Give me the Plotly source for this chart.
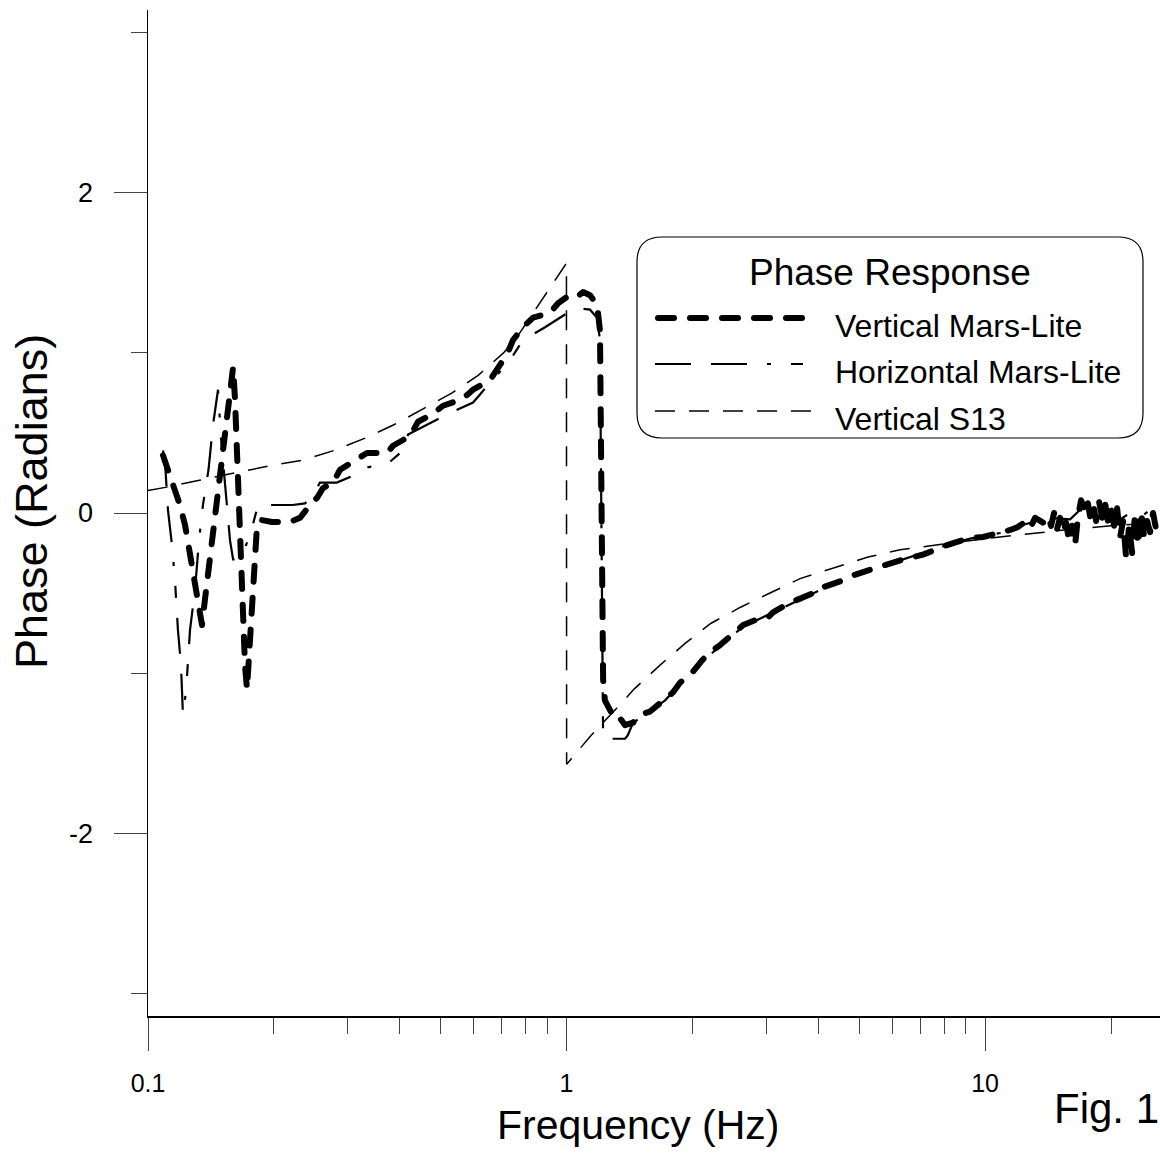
import math
import plotly.graph_objects as go

# ---------------- data ----------------
vert_ml_freq = [0.1086, 0.1116, 0.1160, 0.1192, 0.1226, 0.1260, 0.1281, 0.1310, 0.1346, 0.1368,
                0.1406, 0.1446, 0.1486, 0.1528, 0.1553, 0.1588, 0.1597, 0.1614, 0.1630, 0.1650,
                0.1668, 0.1686, 0.1705, 0.1724, 0.1753, 0.1782, 0.1822, 0.1870, 0.1979, 0.2184,
                0.2308, 0.2439, 0.2534, 0.2619, 0.2767, 0.2876, 0.2956, 0.3157, 0.3336, 0.3725,
                0.3850, 0.4068, 0.4227, 0.4418, 0.4797, 0.5069, 0.5627, 0.5978, 0.6564, 0.6935,
                0.7207, 0.7448, 0.7869, 0.8317, 0.9133, 0.9544, 1.003, 1.048, 1.095, 1.138,
                1.183, 1.202, 1.209, 1.216, 1.223, 1.235, 1.270, 1.306, 1.340, 1.380,
                1.442, 1.498, 1.583, 1.645, 1.720, 1.797, 1.867, 2.006, 2.108, 2.203,
                2.328, 2.459, 2.642, 2.821, 3.013, 3.114, 3.420, 3.654, 3.968, 4.034,
                4.382, 4.579, 4.838, 5.254, 5.520, 6.029, 6.370, 7.110, 7.680, 8.115,
                8.575, 9.209, 9.890, 10.86, 11.48, 11.93, 12.46, 12.81, 13.17, 13.76,
                13.91, 14.15, 14.38, 14.62, 14.86, 15.11, 15.36, 15.62, 15.88, 16.14,
                16.41, 16.68, 16.96, 17.24, 17.53, 17.82, 18.12, 18.42, 18.73, 19.04,
                19.36, 19.68, 20.01, 20.34, 20.68, 21.02, 21.37, 21.73, 22.09, 22.46,
                22.83, 23.21, 23.60, 23.99, 24.39, 24.79, 25.20, 25.62, 26.05]
vert_ml_phase = [0.36, 0.27, 0.125, 0.05, -0.075, -0.26, -0.42, -0.54, -0.70, -0.54,
                 -0.29, -0.04, 0.21, 0.46, 0.64, 0.86, 0.91, 0.71, 0.39, 0.02,
                 -0.36, -0.67, -0.95, -1.10, -0.79, -0.36, -0.075, -0.044, -0.056, -0.056,
                 -0.03, 0.05, 0.094, 0.156, 0.19, 0.27, 0.29, 0.33, 0.375, 0.375,
                 0.42, 0.456, 0.48, 0.57, 0.62, 0.67, 0.71, 0.77, 0.83, 0.925,
                 0.99, 1.08, 1.16, 1.22, 1.25, 1.31, 1.35, 1.34, 1.38, 1.36,
                 1.30, 1.14, 0.39, -0.54, -1.04, -1.17, -1.24, -1.29, -1.28, -1.325,
                 -1.31, -1.26, -1.24, -1.20, -1.16, -1.12, -1.06, -0.99, -0.92, -0.87,
                 -0.825, -0.77, -0.70, -0.67, -0.66, -0.62, -0.56, -0.53, -0.49, -0.47,
                 -0.44, -0.42, -0.39, -0.356, -0.34, -0.31, -0.29, -0.26, -0.22, -0.20,
                 -0.18, -0.156, -0.15, -0.125, -0.106, -0.09, -0.056, -0.094, -0.03, -0.06,
                 -0.05, -0.02, -0.08, 0.0, -0.10, -0.03, -0.12, -0.06, -0.18, -0.08,
                 -0.20, -0.02, 0.08, 0.03, 0.09, -0.02, 0.06, -0.05, 0.07, -0.03,
                 0.06, -0.06, 0.02, -0.08, 0.03, -0.15, -0.05, -0.28, -0.08, -0.25,
                 0.0, -0.20, 0.01, -0.15, -0.05, -0.12, 0.0, -0.10, -0.07]

horiz_ml_freq = [0.1086, 0.1098, 0.1116, 0.1141, 0.1160, 0.1179, 0.1199, 0.1212, 0.1233, 0.1260,
                 0.1295, 0.1324, 0.1353, 0.1395, 0.1430, 0.1470, 0.1495, 0.1545, 0.1570, 0.1597,
                 0.1659, 0.1753, 0.1832, 0.2097, 0.2215, 0.2372, 0.2471, 0.2574, 0.2826, 0.3210,
                 0.3273, 0.3749, 0.4068, 0.4181, 0.4541, 0.5267, 0.5978, 0.6213, 0.6674, 0.7207,
                 0.7869, 0.8884, 0.9918, 1.048, 1.138, 1.183, 1.202, 1.209, 1.216, 1.219,
                 1.223, 1.380, 1.400, 1.442, 1.583, 1.720, 1.867, 2.108, 2.328, 2.642,
                 3.013, 3.420, 3.968, 4.579, 5.254, 6.029, 7.110, 8.115, 9.209, 10.86,
                 12.46, 14.30, 15.97, 16.87, 17.82, 18.83, 19.90, 21.02, 22.21, 23.46,
                 24.79, 25.90]
horiz_ml_phase = [0.39, 0.32, 0.02, -0.20, -0.42, -0.73, -0.95, -1.26, -1.11, -0.73,
                  -0.48, -0.17, 0.05, 0.27, 0.55, 0.77, 0.46, 0.02, -0.17, -0.29,
                  -0.29, -0.14, 0.05, 0.05, 0.05, 0.06, 0.10, 0.19, 0.19, 0.25,
                  0.28, 0.31, 0.39, 0.49, 0.54, 0.625, 0.69, 0.74, 0.84, 0.925,
                  1.08, 1.16, 1.24, 1.28, 1.27, 1.22, 1.08, 0.08, -0.86, -1.34,
                  -1.41, -1.41, -1.39, -1.31, -1.24, -1.17, -1.07, -0.93, -0.83, -0.71,
                  -0.64, -0.57, -0.49, -0.425, -0.36, -0.31, -0.25, -0.20, -0.16, -0.125,
                  -0.07, -0.03, -0.04, 0.02, -0.01, 0.05, -0.01, -0.04, 0.0, -0.03,
                  0.02, -0.04]

s13_freq = [0.1, 0.11, 0.13, 0.16, 0.20, 0.234, 0.278, 0.332, 0.393, 0.461,
            0.533, 0.615, 0.707, 0.762, 0.809, 0.888, 0.950, 0.9995, 1.0005, 1.144,
            1.328, 1.450, 1.673, 1.930, 2.210, 2.598, 3.063, 3.614, 4.382, 5.254,
            6.265, 10.0, 15.0, 20.0, 26.0]
s13_phase = [0.14, 0.16, 0.20, 0.25, 0.30, 0.33, 0.39, 0.47, 0.56, 0.66,
             0.75, 0.86, 1.00, 1.10, 1.20, 1.36, 1.47, 1.56, -1.57, -1.39,
             -1.21, -1.10, -0.95, -0.81, -0.69, -0.59, -0.50, -0.41, -0.34, -0.275,
             -0.23, -0.16, -0.11, -0.08, -0.06]

series_names = ["Vertical Mars-Lite", "Horizontal Mars-Lite", "Vertical S13"]
x_tick_vals = [0.1, 1, 10]
x_tick_text = ["0.1", "1", "10"]
x_minor_vals = [0.2, 0.3, 0.4, 0.5, 0.6, 0.7, 0.8, 0.9, 2, 3, 4, 5, 6, 7, 8, 9, 20]
y_tick_vals = [-2, 0, 2]
y_tick_text = ["-2", "0", "2"]
y_minor_vals = [-3, -1, 1, 3]

# ---------------- styling ----------------
FONT = "Liberation Sans, Arial, Helvetica, sans-serif"
W, H = 1160, 1158
ML, MR, MT, MB = 148, 0, 10, 142
PW, PH = W - ML - MR, H - MT - MB

dash_vert = "16px,16px"          # drawn with round caps -> ~22px dashes, ~10px gaps
dash_horiz = "36px,20px,36px,20px,4px,20px,12px,20px"
dash_s13 = "20px,14px"

fig = go.Figure()
fig.add_trace(go.Scatter(x=s13_freq, y=s13_phase, mode="lines", name=series_names[2],
                         line=dict(color="black", width=1.5, dash=dash_s13), showlegend=False))
fig.add_trace(go.Scatter(x=horiz_ml_freq, y=horiz_ml_phase, mode="lines", name=series_names[1],
                         line=dict(color="black", width=2.2, dash=dash_horiz), showlegend=False))
fig.add_trace(go.Scatter(x=vert_ml_freq, y=vert_ml_phase, mode="lines", name=series_names[0],
                         line=dict(color="black", width=6, dash=dash_vert), showlegend=False))


def px(xp):
    return (xp - ML) / PW


def py(yp):
    return (MT + PH - yp) / PH


# legend box (rounded rectangle) drawn manually
bx0, bx1, by0, by1, r = 637, 1143, 237, 438, 25
rx, ry = r / PW, r / PH
path = (f"M {px(bx0)+rx},{py(by0)} L {px(bx1)-rx},{py(by0)} "
        f"Q {px(bx1)},{py(by0)} {px(bx1)},{py(by0)-ry} "
        f"L {px(bx1)},{py(by1)+ry} Q {px(bx1)},{py(by1)} {px(bx1)-rx},{py(by1)} "
        f"L {px(bx0)+rx},{py(by1)} Q {px(bx0)},{py(by1)} {px(bx0)},{py(by1)+ry} "
        f"L {px(bx0)},{py(by0)-ry} Q {px(bx0)},{py(by0)} {px(bx0)+rx},{py(by0)} Z")
shapes = [dict(type="path", xref="paper", yref="paper", path=path,
               line=dict(color="black", width=1.2), fillcolor="white", layer="above")]

legend_rows = [(318, 326, 6, dash_vert, 658, 809), (364, 372, 2.2, dash_horiz, 655, 812),
               (411, 419, 1.5, dash_s13, 655, 812)]
annotations = []
for name, (ly, ty, lw, dsh, lx0, lx1) in zip(series_names, legend_rows):
    shapes.append(dict(type="line", xref="paper", yref="paper", x0=px(lx0), x1=px(lx1),
                       y0=py(ly), y1=py(ly), line=dict(color="black", width=lw, dash=dsh),
                       layer="above"))
    annotations.append(dict(text=name, xref="paper", yref="paper", x=px(833), y=py(ty),
                            xanchor="left", yanchor="middle", showarrow=False,
                            font=dict(family=FONT, size=32, color="black")))

annotations += [
    dict(text="Phase Response", xref="paper", yref="paper", x=px(890), y=py(272),
         xanchor="center", yanchor="middle", showarrow=False,
         font=dict(family=FONT, size=37, color="black")),
    dict(text="Phase (Radians)", xref="paper", yref="paper", x=px(31), y=py(502),
         xanchor="center", yanchor="middle", textangle=-90, showarrow=False,
         font=dict(family=FONT, size=45, color="black")),
    dict(text="Frequency (Hz)", xref="paper", yref="paper", x=px(638), y=py(1125),
         xanchor="center", yanchor="middle", showarrow=False,
         font=dict(family=FONT, size=41, color="black")),
    dict(text="Fig. 10", xref="paper", yref="paper", x=px(1052), y=py(1108),
         xanchor="left", yanchor="middle", showarrow=False,
         font=dict(family=FONT, size=42, color="black")),
]

fig.update_layout(
    width=W, height=H, margin=dict(l=ML, r=MR, t=MT, b=MB),
    paper_bgcolor="white", plot_bgcolor="white", showlegend=False,
    font=dict(family=FONT, color="black"),
    shapes=shapes, annotations=annotations,
    xaxis=dict(type="log", range=[-1, 1.418], showline=True, linecolor="black", linewidth=1.5,
               showgrid=False, zeroline=False, automargin=False,
               ticks="outside", tickmode="array", tickvals=x_tick_vals, ticktext=x_tick_text,
               ticklen=33, tickwidth=1, tickcolor="#444", ticklabelstandoff=11,
               tickfont=dict(family=FONT, size=25, color="black"),
               minor=dict(ticks="outside", tickmode="array", tickvals=x_minor_vals,
                          ticklen=16, tickwidth=1, tickcolor="#444", showgrid=False)),
    yaxis=dict(range=[-math.pi, math.pi], showline=True, linecolor="black", linewidth=1.5,
               showgrid=False, zeroline=False, automargin=False,
               ticks="outside", tickmode="array", tickvals=y_tick_vals, ticktext=y_tick_text,
               ticklen=33, tickwidth=1, tickcolor="#444", ticklabelstandoff=15,
               tickfont=dict(family=FONT, size=27, color="black"),
               minor=dict(ticks="outside", tickmode="array", tickvals=y_minor_vals,
                          ticklen=16, tickwidth=1, tickcolor="#444", showgrid=False)),
)

post = """
document.body.style.margin = '0px';
document.body.style.overflow = 'hidden';
function roundCaps() {
  document.querySelectorAll('path').forEach(function (p) {
    var w = parseFloat(p.style.strokeWidth || p.getAttribute('stroke-width') || '0');
    if (w >= 5) { p.style.strokeLinecap = 'round'; p.style.strokeLinejoin = 'round'; }
  });
}
roundCaps();
var gd = document.getElementById('{plot_id}');
if (gd && gd.on) { gd.on('plotly_afterplot', roundCaps); }
setTimeout(roundCaps, 50);
"""

fig.write_html("out.html", post_script=post,
               config={"displayModeBar": False, "staticPlot": True})
